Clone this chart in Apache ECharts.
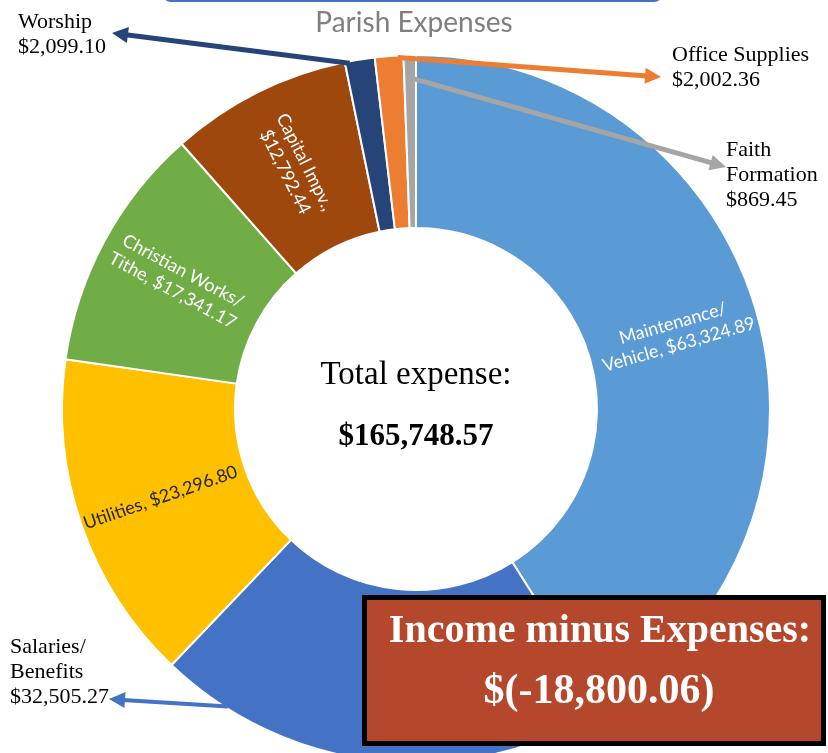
<!DOCTYPE html>
<html>
<head>
    <meta http-equiv="Content-Type" content="text/html; charset=utf-8"/>
    <script src="https://cdn.jsdelivr.net/npm/echarts@6/dist/echarts.min.js"></script>
    <style>
        html, body { margin: 0; padding: 0; background: #fff; }
    </style>
</head>
<body>

<div id="parish" style="width: 828px; height: 753px;"></div>

<script type="text/javascript">
    // data
    var categories = ['Maintenance/Vehicle', 'Salaries/Benefits', 'Utilities', 'Christian Works/Tithe',
        'Capital Impv.', 'Worship', 'Office Supplies', 'Faith Formation'];
    var expenses = [63324.89, 32505.27, 23296.80, 17341.17, 12792.44, 2099.10, 2002.36, 869.45];
    var labelTemplates = ['Maintenance/\nVehicle, {v}', 'Salaries/\nBenefits\n{v}', 'Utilities, {v}',
        'Christian Works/\nTithe, {v}', 'Capital Impv.,\n{v}', 'Worship\n{v}', 'Office Supplies\n{v}',
        'Faith\nFormation\n{v}'];
    var totalExpense = 165748.57;
    var netResult = -18800.06;

    var sliceColors = ['#5B9BD5', '#4472C4', '#FFC000', '#70AD47', '#9E480E', '#264478', '#ED7D31', '#A5A5A5'];

    /* pie geometry */
    var cx = 416, cy = 409, r0 = 181, r1 = 354;

    /* callouts: slice index, where the arrow leaves the slice, arrow tip, text top-left */
    var callouts = [
        {idx: 1, frac: 0.85, r: 352, tip: [109, 699], text: [10, 635], width: 4},
        {idx: 5, frac: 0.15, r: 352, tip: [112, 33], text: [18, 10], width: 5},
        {idx: 6, frac: 0.8, r: 352, tip: [661, 77], text: [672, 43], width: 5},
        {idx: 7, frac: 0.3, r: 332, tip: [726, 167], text: [726, 138], width: 5}
    ];

    function money(v) {
        return '$' + v.toLocaleString('en-US', {minimumFractionDigits: 2, maximumFractionDigits: 2});
    }

    var sum = expenses.reduce(function (a, b) { return a + b; }, 0);

    // point on a slice, angle measured clockwise from 12 o'clock
    function slicePoint(idx, frac, r) {
        var before = 0;
        for (var i = 0; i < idx; i++) before += expenses[i];
        var a = (before + expenses[idx] * frac) / sum * Math.PI * 2;
        return [cx + r * Math.sin(a), cy - r * Math.cos(a)];
    }

    function arrow(start, tip, color, w) {
        var dx = tip[0] - start[0], dy = tip[1] - start[1];
        var len = Math.sqrt(dx * dx + dy * dy);
        var ux = dx / len, uy = dy / len;
        var head = 16, hw = 8;
        var bx = tip[0] - ux * head, by = tip[1] - uy * head;
        return [{
            type: 'polyline', z: 20,
            shape: {points: [start, [bx + ux * 2, by + uy * 2]]},
            style: {stroke: color, lineWidth: w, fill: null}
        }, {
            type: 'polygon', z: 20,
            shape: {points: [tip, [bx - uy * hw, by + ux * hw], [bx + uy * hw, by - ux * hw]]},
            style: {fill: color}
        }];
    }

    var calloutMap = {};
    var graphics = [
        // bottom edge of the shape above the title
        {type: 'rect', shape: {x: 163, y: -30, width: 499, height: 31, r: 8},
            style: {fill: null, stroke: '#4472C4', lineWidth: 2}},
        {type: 'text', x: cx, y: 375, z: 10,
            style: {text: 'Total expense:', fill: '#000', font: '33px "Liberation Serif"',
                align: 'center', verticalAlign: 'middle'}},
        {type: 'text', x: cx, y: 437, z: 10,
            style: {text: money(totalExpense), fill: '#000', font: 'bold 31px "Liberation Serif"',
                align: 'center', verticalAlign: 'middle'}},
        {type: 'rect', z: 30, shape: {x: 364.5, y: 597.5, width: 459, height: 146},
            style: {fill: '#B5472D', stroke: '#000', lineWidth: 5}},
        {type: 'text', z: 31, x: 600, y: 632,
            style: {text: 'Income minus Expenses:', fill: '#fff', font: 'bold 40px "Liberation Serif"',
                align: 'center', verticalAlign: 'middle'}},
        {type: 'text', z: 31, x: 599, y: 692,
            style: {text: '$(' + netResult.toLocaleString('en-US', {minimumFractionDigits: 2}) + ')',
                fill: '#fff', font: 'bold 42px "Liberation Serif"', align: 'center', verticalAlign: 'middle'}}
    ];
    callouts.forEach(function (c) {
        calloutMap[c.idx] = c;
        graphics = graphics.concat(arrow(slicePoint(c.idx, c.frac, c.r), c.tip, sliceColors[c.idx], c.width));
    });

    var seriesData = categories.map(function (name, i) {
        var item = {name: name, value: expenses[i], itemStyle: {color: sliceColors[i]}};
        if (calloutMap[i]) {
            item.label = {
                position: 'outside', rotate: 0, color: '#000', align: 'left',
                fontFamily: 'Liberation Serif', fontSize: 22, lineHeight: 25
            };
            item.labelLine = {show: false};
        } else if (i === 2) {
            item.label = {color: '#262626'};
        }
        return item;
    });

    var chart = echarts.init(document.getElementById('parish'));
    var option = {
        animation: false,
        title: {
            text: 'Parish Expenses',
            left: 'center',
            top: 4,
            textStyle: {color: '#7F7F7F', fontFamily: 'Lato', fontSize: 28, fontWeight: 'normal'}
        },
        series: [{
            type: 'pie',
            center: [cx, cy],
            radius: [r0, r1],
            startAngle: 90,
            clockwise: true,
            avoidLabelOverlap: false,
            itemStyle: {borderColor: '#fff', borderWidth: 2},
            label: {
                show: true,
                position: 'inside',
                rotate: 'radial',
                color: '#fff',
                fontFamily: 'Lato',
                fontSize: 18,
                lineHeight: 22,
                formatter: function (p) {
                    return labelTemplates[p.dataIndex].replace('{v}', money(p.value));
                }
            },
            labelLayout: function (p) {
                var c = calloutMap[p.dataIndex];
                if (!c) return {};
                return {x: c.text[0], y: c.text[1], align: 'left', verticalAlign: 'top'};
            },
            emphasis: {disabled: true},
            data: seriesData
        }],
        graphic: graphics
    };
    chart.setOption(option);
</script>

</body>
</html>
